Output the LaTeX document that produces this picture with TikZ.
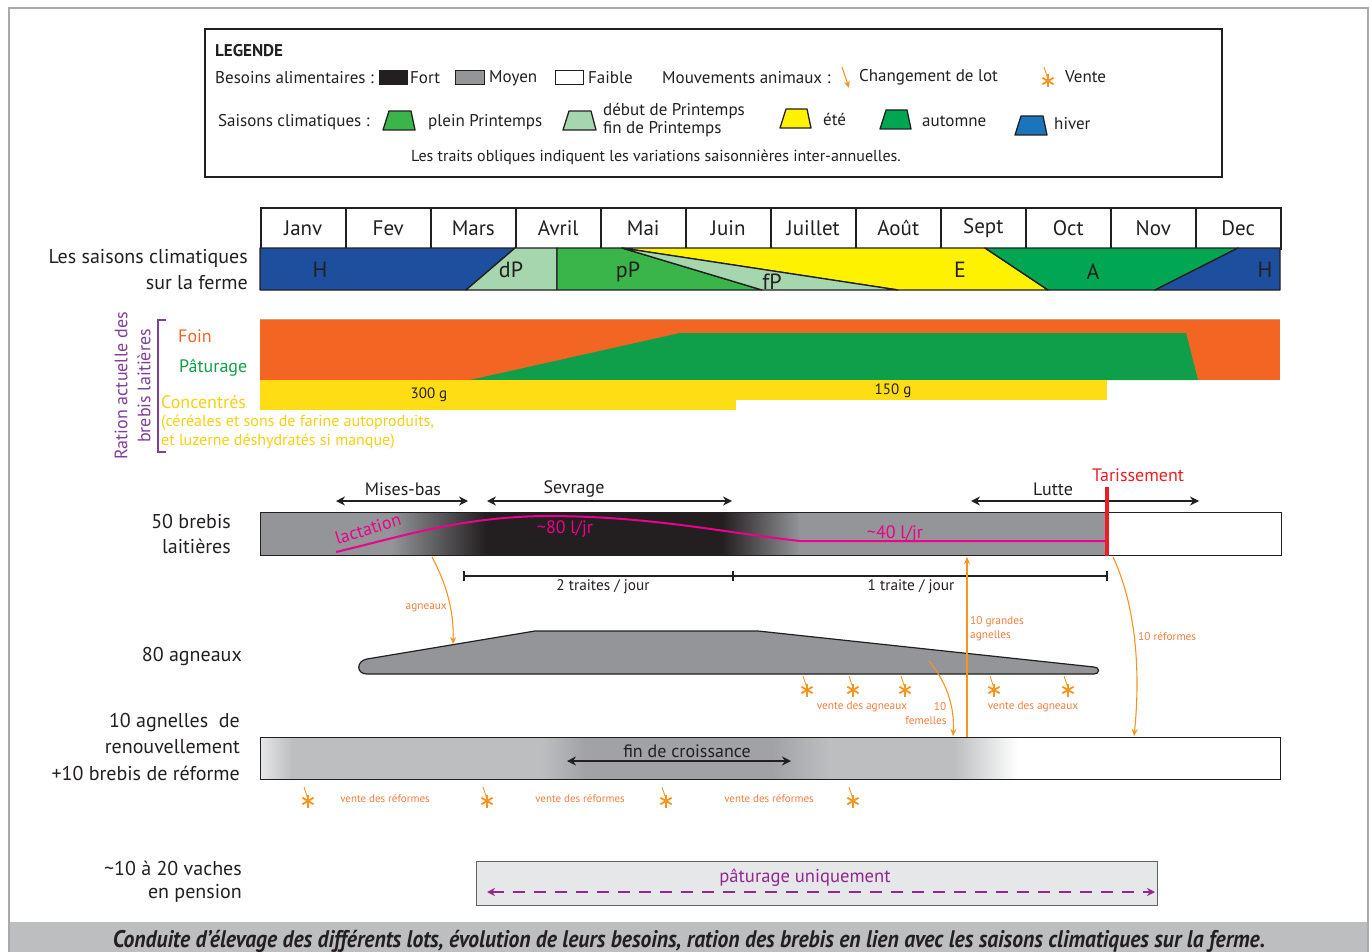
\documentclass[tikz,border=0pt]{standalone}
\usepackage{fontspec}
\setmainfont{PT Sans}
\newfontfamily\capfont[FakeStretch=0.9]{PT Sans}
\usetikzlibrary{arrows.meta}
\definecolor{dk}{HTML}{231F20}
\definecolor{gmid}{HTML}{939598}
\definecolor{glt}{HTML}{BCBEC0}
\definecolor{gvl}{HTML}{E6E7E8}
\definecolor{gfin}{HTML}{A0A2A5}
\definecolor{hblue}{HTML}{1E4F9F}
\definecolor{lblue}{HTML}{1B75BC}
\definecolor{lgreen}{HTML}{A6D6AE}
\definecolor{pgreen}{HTML}{39B54A}
\definecolor{ylw}{HTML}{FFF200}
\definecolor{agreen}{HTML}{00A651}
\definecolor{foin}{HTML}{F26522}
\definecolor{patur}{HTML}{0F9F4A}
\definecolor{conc}{HTML}{FFDD15}
\definecolor{conctxt}{HTML}{F9CF0F}
\definecolor{prp}{HTML}{7F3F98}
\definecolor{prp2}{HTML}{92278F}
\definecolor{pink}{HTML}{EC008C}
\definecolor{rd}{HTML}{ED1C24}
\definecolor{orarr}{HTML}{F7941D}
\definecolor{orlab}{HTML}{F47D3E}
\definecolor{frame}{HTML}{A7A9AC}
\definecolor{tan}{HTML}{C8A27C}
\tikzset{
  lab/.style={font=\fontsize{20}{24}\selectfont, text=dk, inner sep=0pt},
  rlab/.style={font=\fontsize{18}{22}\selectfont, text=dk, inner sep=0pt},
  leg/.style={font=\fontsize{17}{19}\selectfont, text=dk, inner sep=0pt},
  mon/.style={draw=dk, line width=1.5pt, minimum width=85pt, minimum height=41pt, anchor=north west, inner sep=0pt, font=\fontsize{21}{24}\selectfont, text=dk},
  sea/.style={draw=dk, line width=1.3pt, line join=round},
  seal/.style={font=\fontsize{22}{24}\selectfont, text=dk, inner sep=0pt},
  plab/.style={font=\fontsize{18}{20}\selectfont, text=dk, inner sep=0pt},
  olab/.style={font=\fontsize{11.3}{13.5}\selectfont, text=orlab, inner sep=0pt},
  darr/.style={{Stealth[length=9pt,width=9pt]}-{Stealth[length=9pt,width=9pt]}, line width=1.2pt, draw=dk},
  oarr/.style={-{Stealth[length=7pt,width=6pt]}, line width=1.1pt, draw=orarr},
  ostar/.style={draw=orarr, line width=1.8pt},
  bar/.style={draw=dk, line width=1pt, anchor=north west, inner sep=0pt},
  pics/vstar/.style={code={
    \draw[draw=orarr, line width=0.9pt] (-4,-14) -- (0,-2);
    \foreach \a in {90,30,150,210,270,330}{\draw[ostar] (0,0) -- (\a:6.5);}
  }}
}
\begin{document}
\begin{tikzpicture}[x=1pt,y=-1pt]
\useasboundingbox (0,0) rectangle (1372,952);
% frame and caption bar
\fill[glt] (9,922) rectangle (1368,952);
\draw[frame, line width=1.2pt] (9,952) -- (9,8) -- (1368,8) -- (1368,952);
\node[font=\capfont\bfseries\itshape\fontsize{24}{26}\selectfont, text=dk, inner sep=0pt] (caption) at (689,941)
  {Conduite d’élevage des différents lots, évolution de leurs besoins, ration des brebis en lien avec les saisons climatiques sur la ferme.};

% ---------------- LEGEND ----------------
\draw[dk, line width=2pt] (205,29) rectangle (1222,177);
\node[leg, font=\bfseries\fontsize{17}{19}\selectfont, anchor=west] (legt) at (215,51) {LEGENDE};
\node[leg, anchor=west] (lba) at (215,78) {Besoins alimentaires :};
\filldraw[fill=dk, draw=dk, line width=1pt] (379,71) rectangle (407,85);
\node[leg, anchor=west] (lfort) at (410,78) {Fort};
\filldraw[fill=gmid, draw=dk, line width=1pt] (455,71) rectangle (484,85);
\node[leg, anchor=west] (lmoy) at (489,78) {Moyen};
\filldraw[fill=white, draw=dk, line width=1pt] (555,71) rectangle (583,85);
\node[leg, anchor=west] (lfai) at (588,78) {Faible};
\node[leg, anchor=west] (lmouv) at (662,78) {Mouvements animaux :};
\coordinate (lca) at (842,67); \coordinate (lcb) at (849,88);
\draw[oarr] (lca) -- (lcb);
\node[leg, anchor=west] (lchg) at (859,77) {Changement de lot};
\pic at (1048,81) {vstar};
\node[leg, anchor=west] (lvente) at (1065,77) {Vente};

\node[leg, anchor=west] (lsc) at (218,122) {Saisons climatiques :};
\filldraw[sea, fill=pgreen] (383,130) -- (389,111) -- (411,111) -- (415,130) -- cycle;
\node[leg, anchor=west] (lpp) at (428,122) {plein Printemps};
\filldraw[sea, fill=lgreen] (563,130) -- (569,111) -- (591,111) -- (596,130) -- cycle;
\node[leg, anchor=west] (ldp) at (603,111) {début de Printemps};
\node[leg, anchor=west] (lfp) at (603,129) {fin de Printemps};
\filldraw[sea, fill=ylw] (780,128) -- (786,109) -- (807,109) -- (811,128) -- cycle;
\node[leg, anchor=west] (lete) at (823,119) {été};
\filldraw[sea, fill=agreen] (880,129) -- (886,110) -- (907,110) -- (911,129) -- cycle;
\node[leg, anchor=west] (laut) at (922,121) {automne};
\filldraw[sea, fill=lblue] (1015,135) -- (1021,116) -- (1043,116) -- (1047,135) -- cycle;
\node[leg, anchor=west] (lhiv) at (1054,124) {hiver};
\node[leg, font=\fontsize{16}{18}\selectfont] (ltraits) at (656,157) {Les traits obliques indiquent les variations saisonnières inter-annuelles.};

% ---------------- MONTHS ----------------
\foreach \m [count=\i from 0] in {Janv,Fev,Mars,Avril,Mai,Juin,Juillet,Août,Sept,Oct,Nov,Dec}{
  \node[mon] (m\i) at ({260+85*\i},207) {\m};
}
% seasons
\filldraw[sea, fill=hblue] (260,248) -- (515,248) -- (466,290) -- (260,290) -- cycle;
\filldraw[sea, fill=lgreen] (515,248) -- (557,248) -- (557,290) -- (466,290) -- cycle;
\filldraw[sea, fill=pgreen] (557,248) -- (622,248) -- (762,290) -- (557,290) -- cycle;
\filldraw[sea, fill=ylw] (622,248) -- (985,248) -- (1048,290) -- (898,290) -- cycle;
\filldraw[sea, fill=lgreen] (622,248) -- (898,290) -- (762,290) -- cycle;
\filldraw[sea, fill=agreen] (985,248) -- (1238,248) -- (1155,290) -- (1048,290) -- cycle;
\filldraw[sea, fill=hblue] (1238,248) -- (1280,248) -- (1280,290) -- (1155,290) -- cycle;
\node[seal] (sH1) at (320,270) {H};
\node[seal] (sdP) at (511,270) {dP};
\node[seal] (spP) at (628,272) {pP};
\node[seal] (sfP) at (772,282) {fP};
\node[seal] (sE) at (960,270) {E};
\node[seal] (sA) at (1093,272) {A};
\node[seal] (sH2) at (1265,270) {H};
\node[lab, anchor=east] (lsais1) at (248,258) {Les saisons climatiques};
\node[lab, anchor=east] (lsais2) at (248,283) {sur la ferme};

% ---------------- RATION ----------------
\fill[foin] (260,319) rectangle (1280,380);
\draw[tan, line width=0.8pt] (260,319.5) -- (1280,319.5);
\fill[patur] (470,380) -- (680,333) -- (1186,333) -- (1198,380) -- cycle;
\fill[conc] (260,380) rectangle (1107,400);
\fill[conc] (260,400) rectangle (736,410);
\node[font=\fontsize{15}{17}\selectfont, text=dk, inner sep=0pt] (r300) at (429,395) {300 g};
\node[font=\fontsize{15}{17}\selectfont, text=dk, inner sep=0pt] (r150) at (893,391) {150 g};
\node[rlab, text=foin, anchor=west] (lfoin) at (178,336) {Foin};
\node[rlab, text=patur, anchor=west] (lpat) at (179,368) {Pâturage};
\node[rlab, text=conctxt, anchor=west] (lconc) at (161,402) {Concentrés};
\node[leg, font=\fontsize{16}{18}\selectfont, text=conctxt, anchor=west] (lconc2) at (161,422) {(céréales et sons de farine autoproduits,};
\node[leg, font=\fontsize{16}{18}\selectfont, text=conctxt, anchor=west] (lconc3) at (161,441) {et luzerne déshydratés si manque)};
\draw[prp, line width=2pt] (166,320) -- (158,320) -- (158,452) -- (166,452);
\node[rlab, text=prp, rotate=90] (lrat1) at (121,386) {Ration actuelle des};
\node[rlab, text=prp, rotate=90] (lrat2) at (144,386) {brebis laitières};

% ---------------- BREBIS ----------------
\fill[gmid] (260,512) rectangle (392,555);
\shade[left color=gmid, right color=dk] (391,512) rectangle (486,555);
\fill[dk] (485,512) rectangle (723,555);
\shade[left color=dk, right color=gmid] (722,512) rectangle (800,555);
\fill[gmid] (799,512) rectangle (1107,555);
\node[bar, minimum width=1021pt, minimum height=43pt] (brebis) at (260,512) {};
\node[lab, anchor=east] (lbreb1) at (231,521) {50 brebis};
\node[lab, anchor=east] (lbreb2) at (231,546) {laitières};
\draw[pink, line width=2pt] (336,552) .. controls (400,537) and (460,517) .. (545,516)
  .. controls (650,516) and (720,532) .. (800,541) -- (1107,541);
\node[font=\fontsize{18}{20}\selectfont, text=pink, rotate=17, inner sep=0pt] (llact) at (368,529) {lactation};
\node[font=\fontsize{18}{20}\selectfont, text=pink, inner sep=0pt] (l80) at (565,529) {\textasciitilde80 l/jr};
\node[font=\fontsize{18}{20}\selectfont, text=pink, inner sep=0pt] (l40) at (895,534) {\textasciitilde40 l/jr};
% period arrows
\coordinate (mb1) at (336,501); \coordinate (mb2) at (468,501);
\draw[darr] (mb1) -- (mb2);
\node[plab] (lmb) at (403,489) {Mises-bas};
\coordinate (sv1) at (487,501); \coordinate (sv2) at (732,501);
\draw[darr] (sv1) -- (sv2);
\node[plab] (lsv) at (574,489) {Sevrage};
\coordinate (lu1) at (971,501); \coordinate (lu2) at (1199,501);
\draw[darr] (lu1) -- (lu2);
\node[plab] (llu) at (1053,489) {Lutte};
\coordinate (ta1) at (1107,487); \coordinate (ta2) at (1107,556);
\draw[rd, line width=4pt] (ta1) -- (ta2);
\node[plab, text=rd] (ltar) at (1138,475) {Tarissement};
% traites
\coordinate (tr1) at (464,576); \coordinate (tr2) at (733,576); \coordinate (tr3) at (1107,576);
\draw[dk, line width=1.5pt] (tr1) -- (tr3);
\foreach \t in {tr1,tr2,tr3}{\draw[dk, line width=1.5pt] ([yshift=-5pt]\t) -- ([yshift=5pt]\t);}
\node[font=\fontsize{15.3}{17}\selectfont, text=dk, inner sep=0pt] (l2t) at (603,587) {2 traites / jour};
\node[font=\fontsize{15.3}{17}\selectfont, text=dk, inner sep=0pt] (l1t) at (911,587) {1 traite / jour};

% ---------------- AGNEAUX ----------------
\filldraw[fill=gmid, draw=dk, line width=1.2pt, line join=round]
  (367,674) -- (1094,674) .. controls (1100,674) and (1100,667) .. (1094,667)
  -- (758,631) -- (535,631) -- (367,659) .. controls (356,661) and (356,674) .. (367,674) -- cycle;
\node[lab, anchor=east] (lagn) at (242,656) {80 agneaux};
% changement de lot arrows
\coordinate (ca1) at (432,557); \coordinate (ca2) at (453,644);
\draw[oarr] (ca1) .. controls (447,585) and (454,612) .. (ca2);
\node[olab, anchor=east] (lca) at (447,608) {agneaux};
\coordinate (fe1) at (929,661); \coordinate (fe2) at (953,736);
\draw[oarr] (fe1) .. controls (945,680) and (955,705) .. (fe2);
\node[olab] (lfe1) at (940,707) {10};
\node[olab] (lfe2) at (926,721) {femelles};
\coordinate (ga1) at (967,737); \coordinate (ga2) at (967,557);
\draw[oarr] (ga1) -- (ga2);
\node[olab, anchor=west] (lga1) at (970,622) {10 grandes};
\node[olab, anchor=west] (lga2) at (970,636) {agnelles};
\coordinate (re1) at (1113,557); \coordinate (re2) at (1134,736);
\draw[oarr] (re1) .. controls (1138,610) and (1140,680) .. (re2);
\node[olab, anchor=west] (lre) at (1138,636) {10 réformes};
% ventes agneaux
\foreach \x in {807,853,905,994,1068}{\pic at (\x,690) {vstar};}
\node[olab] (lva1) at (862,707) {vente des agneaux};
\node[olab] (lva2) at (1033,707) {vente des agneaux};

% ---------------- AGNELLES ----------------
\shade[left color=gvl, right color=glt] (260,737) rectangle (292,779);
\fill[glt] (291,737) rectangle (542,779);
\shade[left color=glt, right color=gfin] (541,737) rectangle (586,779);
\fill[gfin] (585,737) rectangle (772,779);
\shade[left color=gfin, right color=glt] (771,737) rectangle (830,779);
\fill[glt] (829,737) rectangle (955,779);
\shade[left color=glt, right color=white] (954,737) rectangle (1018,779);
\node[bar, minimum width=1020pt, minimum height=42pt] (agnelles) at (260,737) {};
\node[lab, anchor=east] (lagl1) at (240,722) {10 agnelles\ \ de};
\node[lab, anchor=east] (lagl2) at (240,747) {renouvellement};
\node[lab, anchor=east] (lagl3) at (240,773) {+10 brebis de réforme};
\coordinate (fc1) at (567,761); \coordinate (fc2) at (791,761);
\draw[darr] (fc1) -- (fc2);
\node[plab] (lfc) at (687,751) {fin de croissance};
\foreach \x in {308,487,666,853}{\pic at (\x,801) {vstar};}
\node[olab, font=\fontsize{11}{13}\selectfont] (lvr1) at (385,799) {vente des réformes};
\node[olab, font=\fontsize{11}{13}\selectfont] (lvr2) at (580,799) {vente des réformes};
\node[olab, font=\fontsize{11}{13}\selectfont] (lvr3) at (769,799) {vente des réformes};

% ---------------- VACHES ----------------
\node[lab, anchor=east] (lvac1) at (242,868) {\textasciitilde10 à 20 vaches};
\node[lab, anchor=east] (lvac2) at (242,893) {en pension};
\node[draw=dk!70, fill=gvl, line width=1pt, anchor=north west, minimum width=681pt, minimum height=44pt, inner sep=0pt] (vaches) at (476,861) {};
\node[font=\fontsize{18.6}{21}\selectfont, text=prp2, inner sep=0pt] (lpatu) at (805,878) {pâturage uniquement};
\coordinate (va1) at (487,892); \coordinate (va2) at (1155,892);
\draw[prp2, line width=1.5pt, dash pattern=on 12pt off 9pt, {Stealth[length=8pt,width=8pt]}-{Stealth[length=8pt,width=8pt]}] (va1) -- (va2);
\end{tikzpicture}
\end{document}
